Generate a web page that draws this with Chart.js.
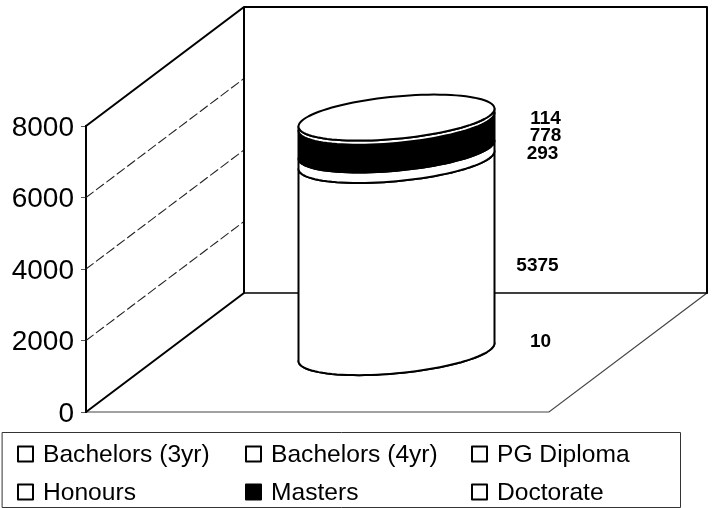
<!DOCTYPE html>
<html><head><meta charset="utf-8">
<style>html,body{margin:0;padding:0;background:#fff}canvas{display:block}</style>
<script src="https://cdn.jsdelivr.net/npm/chart.js@4"></script>
</head><body><canvas id="c" width="713" height="508"></canvas>
<script>
const categories = ['Qualifications'];
const seriesNames = ['Bachelors (3yr)','Bachelors (4yr)','PG Diploma','Honours','Masters','Doctorate'];
const seriesValues = [10,5375,0,293,778,114];
const seriesFills = ['#ffffff','#ffffff','#ffffff','#ffffff','#000000','#ffffff'];
const yTicks = [0,2000,4000,6000,8000];

// 3D projection of the chart box
const depth = {x:158, y:-119};
const tilt = {B:38, C:23};
// label nudges relative to the middle of each cylinder segment
const labelNudge = [[144,-10],[141,10],[0,0],[146,-1],[149,0],[149,-1]];
const legendLayout = {box:[2,432,678,75], cols:[18,246,472], rows:[454,492], textGap:25, size:15};

function lowerArc(cx,cy,A,t0,rev){
  const pts=[];const n=48;
  for(let i=0;i<=n;i++){
    const t=t0+Math.PI*(rev?n-i:i)/n;
    pts.push([cx+A*Math.cos(t)-tilt.B*Math.sin(t), cy+tilt.C*Math.sin(t)]);
  }
  return pts;
}
const threeD = {
  id:'threeD',
  beforeDatasetsDraw(chart){
    const {ctx,chartArea:a,scales:{y}}=chart;
    const dx=depth.x, dy=depth.y;
    ctx.save();
    ctx.lineCap='round';
    // slanted gridlines on the side wall
    ctx.strokeStyle='#222';ctx.lineWidth=1.1;ctx.setLineDash([9,4]);
    yTicks.forEach(v=>{
      if(v===0||v===8000)return;
      const p=y.getPixelForValue(v);
      ctx.beginPath();ctx.moveTo(a.left,p);ctx.lineTo(a.left+dx,p+dy);ctx.stroke();
    });
    ctx.setLineDash([]);
    const top=y.getPixelForValue(8000), bot=y.getPixelForValue(0);
    // floor front + right diagonal
    ctx.strokeStyle='#444';ctx.lineWidth=1.2;
    ctx.beginPath();ctx.moveTo(a.left,bot);ctx.lineTo(a.right,bot);ctx.lineTo(a.right+dx,bot+dy);ctx.stroke();
    // heavy wall outlines
    ctx.strokeStyle='#000';ctx.lineWidth=2;
    ctx.beginPath();
    ctx.moveTo(a.left,top);ctx.lineTo(a.left+dx,top+dy);ctx.lineTo(a.right+dx,top+dy);
    ctx.moveTo(a.left+dx,top+dy);ctx.lineTo(a.left+dx,bot+dy);
    ctx.moveTo(a.left,bot);ctx.lineTo(a.left+dx,bot+dy);
    ctx.moveTo(a.right+dx,top+dy);ctx.lineTo(a.right+dx,bot+dy);
    ctx.stroke();
    ctx.lineWidth=1.5;
    ctx.beginPath();ctx.moveTo(a.left+dx,bot+dy);ctx.lineTo(a.right+dx,bot+dy);ctx.stroke();

    // cylinder, bottom to top, from the stacked bar elements
    const shiftX=dx/2, shiftY=dy/2;
    let last=null;
    chart.data.datasets.forEach((ds,i)=>{
      const el=chart.getDatasetMeta(i).data[0];
      if(!ds.data[0])return;
      const cx=el.x+shiftX, R=el.width/2;
      const A=Math.sqrt(R*R-tilt.B*tilt.B), t0=-Math.atan(tilt.B/A);
      const yb=el.base+shiftY, yt=el.y+shiftY;
      const lo=lowerArc(cx,yb,A,t0,false), hi=lowerArc(cx,yt,A,t0,true);
      ctx.beginPath();
      lo.concat(hi).forEach((p,k)=>k?ctx.lineTo(p[0],p[1]):ctx.moveTo(p[0],p[1]));
      ctx.closePath();
      ctx.fillStyle=ds.backgroundColor;ctx.fill();
      ctx.strokeStyle='#000';ctx.lineWidth=2;ctx.lineJoin='round';ctx.stroke();
      last={cx,yt,A,t0};
    });
    if(last){
      const u=lowerArc(last.cx,last.yt,last.A,last.t0,false), v=lowerArc(last.cx,last.yt,last.A,last.t0+Math.PI,false);
      ctx.beginPath();
      u.concat(v).forEach((p,k)=>k?ctx.lineTo(p[0],p[1]):ctx.moveTo(p[0],p[1]));
      ctx.closePath();ctx.fillStyle='#fff';ctx.fill();ctx.strokeStyle='#000';ctx.lineWidth=2;ctx.stroke();
    }
    // data labels
    ctx.fillStyle='#000';ctx.font='bold 19px "Liberation Sans", Arial, sans-serif';
    ctx.textAlign='center';ctx.textBaseline='middle';
    chart.data.datasets.forEach((ds,i)=>{
      if(!ds.data[0])return;
      const el=chart.getDatasetMeta(i).data[0];
      const n=labelNudge[i];
      ctx.fillText(String(ds.data[0]), el.x+shiftX+n[0], (el.y+el.base)/2+shiftY+n[1]);
    });
    // legend
    const L=legendLayout;
    ctx.strokeStyle='#333';ctx.lineWidth=1;
    ctx.strokeRect(L.box[0]+.5,L.box[1]+.5,L.box[2],L.box[3]);
    ctx.font='24.6px "Liberation Sans", Arial, sans-serif';ctx.textAlign='left';
    seriesNames.forEach((name,i)=>{
      const x=L.cols[i%3], yy=L.rows[Math.floor(i/3)];
      ctx.fillStyle=seriesFills[i];
      ctx.fillRect(x,yy-L.size/2,L.size,L.size);
      ctx.strokeStyle='#000';ctx.lineWidth=2;ctx.strokeRect(x,yy-L.size/2,L.size,L.size);
      ctx.fillStyle='#000';
      ctx.fillText(name,x+L.textGap,yy+1);
    });
    ctx.restore();
    return false;
  }
};

new Chart(document.getElementById('c'),{
  type:'bar',
  data:{labels:categories,datasets:seriesNames.map((n,i)=>({
    label:n,data:[seriesValues[i]],backgroundColor:seriesFills[i],borderWidth:0,
    categoryPercentage:1,barPercentage:196/463
  }))},
  options:{
    responsive:false,animation:false,
    layout:{padding:{top:126,bottom:96,left:0,right:164}},
    plugins:{legend:{display:false},tooltip:{enabled:false}},
    scales:{
      x:{stacked:true,display:false},
      y:{stacked:true,min:0,max:8000,
        afterFit(s){s.width=86;},
        afterBuildTicks(s){s.ticks=yTicks.map(v=>({value:v}));},
        border:{display:true,color:'#000',width:2},
        grid:{drawOnChartArea:false,tickLength:5,color:'#555',tickWidth:1},
        ticks:{color:'#000',padding:7,labelOffset:2,font:{family:'"Liberation Sans", Arial, sans-serif',size:28},callback:v=>String(v)}
      }
    }
  },
  plugins:[threeD]
});
</script></body></html>
